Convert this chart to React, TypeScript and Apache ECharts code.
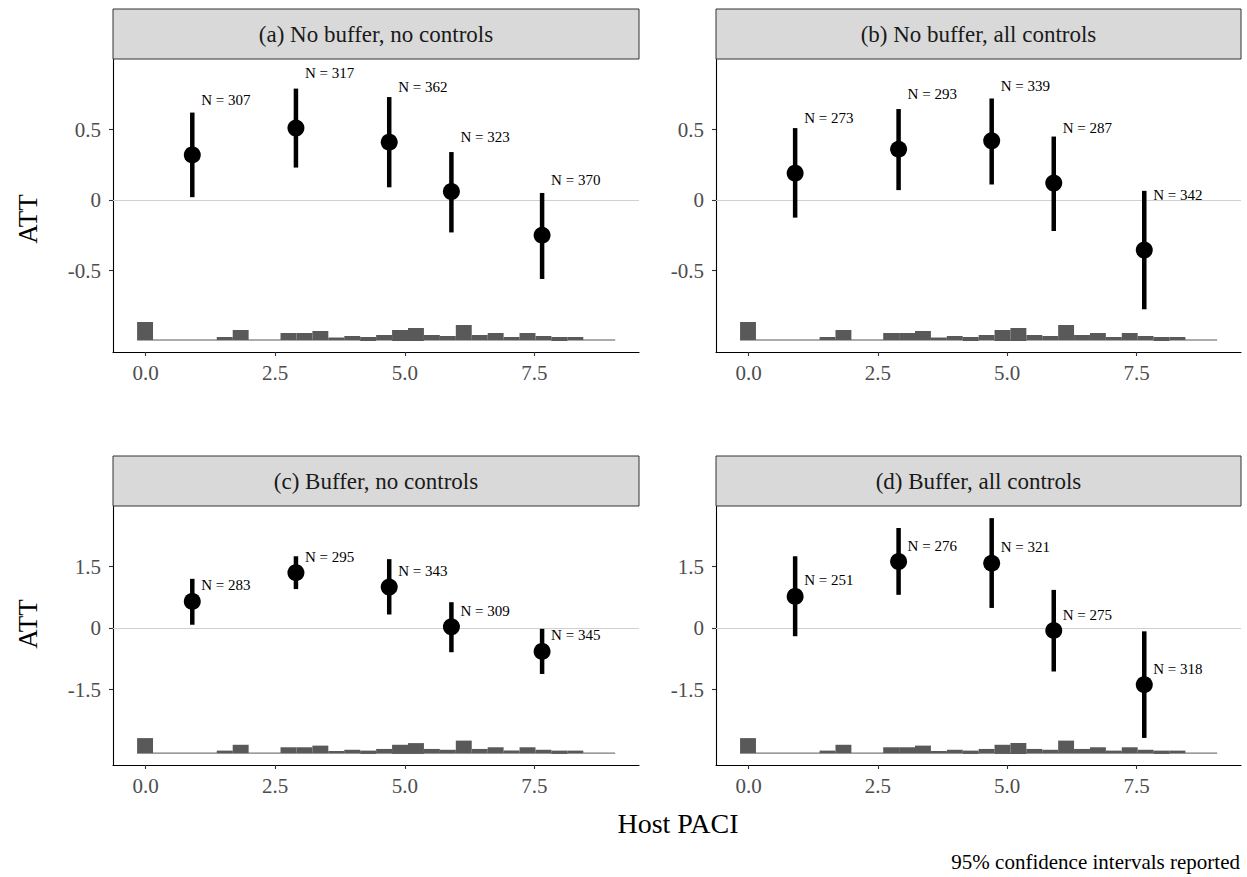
import React, { useEffect, useRef } from 'react';
import * as echarts from 'echarts';

// ---------- data ----------
const panelTitles = [
  '(a) No buffer, no controls',
  '(b) No buffer, all controls',
  '(c) Buffer, no controls',
  '(d) Buffer, all controls',
];
const pointX = [0.9, 2.9, 4.7, 5.9, 7.65];

const estA = [0.32, 0.51, 0.41, 0.06, -0.25];
const loA = [0.02, 0.23, 0.09, -0.23, -0.56];
const hiA = [0.62, 0.79, 0.73, 0.34, 0.05];
const nA = [307, 317, 362, 323, 370];

const estB = [0.19, 0.36, 0.42, 0.12, -0.355];
const loB = [-0.125, 0.07, 0.11, -0.22, -0.775];
const hiB = [0.51, 0.645, 0.72, 0.45, 0.065];
const nB = [273, 293, 339, 287, 342];

const estC = [0.65, 1.35, 1.0, 0.03, -0.57];
const loC = [0.08, 0.95, 0.33, -0.59, -1.12];
const hiC = [1.2, 1.75, 1.68, 0.63, -0.02];
const nC = [283, 295, 343, 309, 345];

const estD = [0.77, 1.62, 1.58, -0.06, -1.38];
const loD = [-0.2, 0.81, 0.49, -1.06, -2.68];
const hiD = [1.75, 2.44, 2.68, 0.93, -0.08];
const nD = [251, 276, 321, 275, 318];

// histogram of the moderator (30 bins)
const histStart = -0.165;
const histBinWidth = 0.3075;
const histUp = [36, 0, 0, 0, 0, 6, 20, 0, 0, 14, 14, 18, 5, 8, 6, 10, 20, 24, 10, 8, 30, 10, 14, 6, 14, 8, 6, 6, 0, 0];
const histDown = [0, 0, 0, 0, 0, 0, 0, 0, 0, 0, 0, 0, 0, 0, 2, 0, 2, 2, 0, 0, 0, 0, 0, 0, 0, 0, 2, 0, 0, 0];

const xTicks = [0, 2.5, 5, 7.5];
const yTicksTop = [-0.5, 0, 0.5];
const yTicksBottom = [-1.5, 0, 1.5];

// ---------- layout ----------
const FONT = 'Liberation Serif';
const rows = [
  { top: 59, height: 293, min: -1.078, max: 1.0, ticks: yTicksTop, base: -0.993, histScale: 0.003546, labelOff: 0.39, titleY: 219 },
  { top: 506, height: 259, min: -3.34, max: 2.976, ticks: yTicksBottom, base: -3.05, histScale: 0.010163, labelOff: 0.39, titleY: 624 },
];
const cols = [
  { left: 113, width: 526 },
  { left: 716, width: 525 },
];
const panels = [
  { est: estA, lo: loA, hi: hiA, n: nA, row: 0, col: 0 },
  { est: estB, lo: loB, hi: hiB, n: nB, row: 0, col: 1 },
  { est: estC, lo: loC, hi: hiC, n: nC, row: 1, col: 0 },
  { est: estD, lo: loD, hi: hiD, n: nD, row: 1, col: 1 },
];

function fmtY(v: number) {
  if (Math.abs(v) < 1e-9) return '0';
  return String(v);
}

function buildOption() {
  const grid: any[] = [];
  const xAxis: any[] = [];
  const yAxis: any[] = [];
  const series: any[] = [];
  const graphic: any[] = [];

  const histData = histUp.map((u, i) => [
    histStart + i * histBinWidth,
    histStart + (i + 1) * histBinWidth,
    u,
    histDown[i],
  ]);

  panels.forEach((p, idx) => {
    const r = rows[p.row];
    const c = cols[p.col];
    grid.push({ left: c.left, top: r.top, width: c.width, height: r.height, containLabel: false });
    xAxis.push({
      type: 'value',
      gridIndex: idx,
      min: -0.63,
      max: 9.52,
      splitLine: { show: false },
      axisLine: { show: true, onZero: false, lineStyle: { color: '#000', width: 1.1 } },
      axisTick: { show: true, length: 4, customValues: xTicks, lineStyle: { color: '#333', width: 1.1 } },
      axisLabel: {
        customValues: xTicks,
        formatter: (v: number) => v.toFixed(1),
        color: '#4d4d4d',
        fontFamily: FONT,
        fontSize: 21,
        margin: 10,
      },
    });
    yAxis.push({
      type: 'value',
      gridIndex: idx,
      min: r.min,
      max: r.max,
      splitLine: { show: false },
      axisLine: { show: true, onZero: false, lineStyle: { color: '#000', width: 1.1 } },
      axisTick: { show: true, length: 4, customValues: r.ticks, lineStyle: { color: '#333', width: 1.1 } },
      axisLabel: {
        customValues: r.ticks,
        formatter: fmtY,
        color: '#4d4d4d',
        fontFamily: FONT,
        fontSize: 21,
        margin: 12,
      },
    });

    // baseline of histogram + zero reference line
    series.push({
      type: 'line',
      xAxisIndex: idx,
      yAxisIndex: idx,
      data: [
        [histStart, r.base],
        [histStart + histUp.length * histBinWidth, r.base],
      ],
      symbol: 'none',
      lineStyle: { color: '#595959', width: 1 },
      z: 1,
      silent: true,
      markLine: {
        silent: true,
        z: 1,
        symbol: ['none', 'none'],
        label: { show: false },
        lineStyle: { color: '#d0d0d0', width: 1.2, type: 'solid' },
        data: [{ yAxis: 0 }],
      },
    });

    // histogram
    series.push({
      type: 'custom',
      xAxisIndex: idx,
      yAxisIndex: idx,
      data: histData,
      z: 2,
      silent: true,
      renderItem: (params: any, api: any) => {
        const x0 = api.value(0);
        const x1 = api.value(1);
        const up = api.value(2);
        const down = api.value(3);
        const children: any[] = [];
        const pb0 = api.coord([x0, r.base]);
        const pb1 = api.coord([x1, r.base]);
        if (up > 0) {
          const pt = api.coord([x0, r.base + up * r.histScale]);
          children.push({
            type: 'rect',
            shape: { x: pb0[0], y: pt[1], width: pb1[0] - pb0[0], height: pb0[1] - pt[1] },
            style: { fill: '#595959' },
          });
        }
        if (down > 0) {
          const pd = api.coord([x0, r.base - down * r.histScale]);
          children.push({
            type: 'rect',
            shape: { x: pb0[0], y: pb0[1], width: pb1[0] - pb0[0], height: pd[1] - pb0[1] },
            style: { fill: '#595959' },
          });
        }
        return { type: 'group', children };
      },
    });

    // confidence intervals
    series.push({
      type: 'custom',
      xAxisIndex: idx,
      yAxisIndex: idx,
      data: pointX.map((x, i) => [x, p.lo[i], p.hi[i]]),
      z: 3,
      renderItem: (params: any, api: any) => {
        const a = api.coord([api.value(0), api.value(1)]);
        const b = api.coord([api.value(0), api.value(2)]);
        return {
          type: 'line',
          shape: { x1: a[0], y1: a[1], x2: b[0], y2: b[1] },
          style: { stroke: '#000', lineWidth: 4.5, lineCap: 'butt' },
        };
      },
    });

    // point estimates
    series.push({
      type: 'scatter',
      xAxisIndex: idx,
      yAxisIndex: idx,
      data: pointX.map((x, i) => [x, p.est[i]]),
      symbol: 'circle',
      symbolSize: 17,
      itemStyle: { color: '#000', opacity: 1 },
      z: 4,
    });

    // N labels
    series.push({
      type: 'scatter',
      xAxisIndex: idx,
      yAxisIndex: idx,
      data: pointX.map((x, i) => [x, p.est[i] + r.labelOff, p.n[i]]),
      symbol: 'circle',
      symbolSize: 0,
      itemStyle: { color: '#000', opacity: 1 },
      z: 5,
      silent: true,
      label: {
        show: true,
        position: 'right',
        distance: 9,
        formatter: (prm: any) => 'N = ' + prm.value[2],
        fontFamily: FONT,
        fontSize: 15,
        color: '#000',
        opacity: 1,
        textBorderWidth: 0,
      },
    });

    // strip
    graphic.push({
      type: 'rect',
      shape: { x: c.left, y: r.top - 50, width: c.width, height: 50 },
      style: { fill: '#d9d9d9', stroke: '#333', lineWidth: 1 },
      z: 10,
    });
    graphic.push({
      type: 'text',
      x: c.left + c.width / 2,
      y: r.top - 25,
      style: {
        text: panelTitles[idx],
        fill: '#1a1a1a',
        font: `23px "${FONT}"`,
        textAlign: 'center',
        textVerticalAlign: 'middle',
      },
      z: 11,
    });
  });

  // axis titles
  rows.forEach((r) => {
    graphic.push({
      type: 'text',
      x: 28,
      y: r.titleY,
      rotation: Math.PI / 2,
      style: {
        text: 'ATT',
        fill: '#000',
        font: `27px "${FONT}"`,
        textAlign: 'center',
        textVerticalAlign: 'middle',
      },
    });
  });
  graphic.push({
    type: 'text',
    x: 678,
    y: 823,
    style: { text: 'Host PACI', fill: '#000', font: `28px "${FONT}"`, textAlign: 'center', textVerticalAlign: 'middle' },
  });
  graphic.push({
    type: 'text',
    x: 1240,
    y: 862,
    style: {
      text: '95% confidence intervals reported',
      fill: '#000',
      font: `21px "${FONT}"`,
      textAlign: 'right',
      textVerticalAlign: 'middle',
    },
  });

  return {
    animation: false,
    backgroundColor: '#ffffff',
    grid,
    xAxis,
    yAxis,
    series,
    graphic,
  };
}

export default function App() {
  const ref = useRef<HTMLDivElement>(null);
  useEffect(() => {
    document.body.style.margin = '0';
    if (!ref.current) return;
    const chart = echarts.init(ref.current, null, { renderer: 'svg' });
    chart.setOption(buildOption());
    return () => chart.dispose();
  }, []);
  return <div ref={ref} style={{ width: 1247, height: 877 }} />;
}
